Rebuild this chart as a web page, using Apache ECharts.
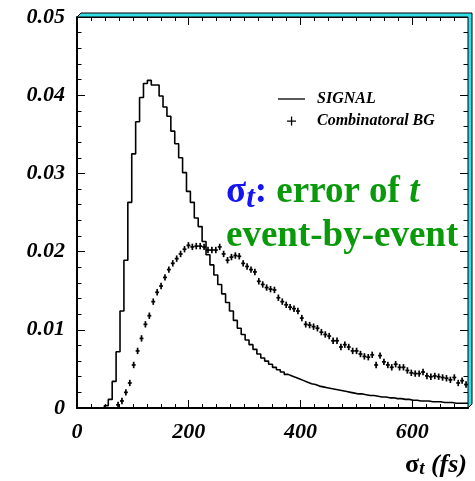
<!DOCTYPE html>
<html>
<head>
<meta charset="utf-8">
<title>sigma_t</title>
<script src="https://cdn.jsdelivr.net/npm/echarts@6/dist/echarts.min.js"></script>
<style>
  body { margin: 0; background: #fff; }
  #chart { width: 475px; height: 481px; }
</style>
</head>
<body>
<div id="chart"></div>
<script>
// histogram binning (fs)
var binWidth = 7;
var xMax = 700;
// SIGNAL, one value per 7 fs bin
var signal = [
  0, 0, 0, 0, 0, 0, 0, 0.0003, 0.0011, 0.0034,
  0.0072, 0.0124, 0.0189, 0.0263, 0.0325, 0.0366, 0.0397, 0.0415, 0.0419, 0.0413,
  0.0413, 0.0399, 0.0385, 0.0373, 0.0354, 0.0338, 0.0320, 0.0301, 0.0277, 0.0263,
  0.0243, 0.0232, 0.0213, 0.0196, 0.0183, 0.0170, 0.0158, 0.0146, 0.0135, 0.0124,
  0.0112, 0.0102, 0.0094, 0.0087, 0.0081, 0.0075, 0.0069, 0.0064, 0.0060, 0.0056,
  0.0052, 0.0049, 0.0046, 0.0043, 0.0041, 0.0039, 0.0037, 0.0035, 0.0033, 0.0031,
  0.0030, 0.0028, 0.0027, 0.0026, 0.0025, 0.0024, 0.0023, 0.0022, 0.0021, 0.0020,
  0.0019, 0.0018, 0.0018, 0.0017, 0.0016, 0.0016, 0.0015, 0.0014, 0.0014, 0.0013,
  0.0013, 0.0012, 0.0012, 0.0011, 0.0011, 0.0010, 0.0010, 0.0009, 0.0009, 0.0009,
  0.0008, 0.0008, 0.0008, 0.0007, 0.0007, 0.0007, 0.0006, 0.0006, 0.0006, 0.0006
];
// Combinatoral BG, same bins
var bg = [
  0, 0, 0, 0, 0, 0, 0, 0, 0, 0,
  0.0004, 0.0009, 0.0020, 0.0032, 0.0055, 0.0073, 0.0089, 0.0107, 0.0118, 0.0136,
  0.0148, 0.0156, 0.0167, 0.0177, 0.0185, 0.0191, 0.0197, 0.0203, 0.0208, 0.0206,
  0.0207, 0.0207, 0.0206, 0.0202, 0.0202, 0.0202, 0.0206, 0.0197, 0.0189, 0.0193,
  0.0195, 0.0194, 0.0185, 0.0181, 0.0177, 0.0174, 0.0162, 0.0158, 0.0154, 0.0152,
  0.0151, 0.0141, 0.0136, 0.0132, 0.0129, 0.0127, 0.0124, 0.0115, 0.0107, 0.0106,
  0.0104, 0.0102, 0.0097, 0.0094, 0.0092, 0.0086, 0.0086, 0.0078, 0.0081, 0.0078,
  0.0073, 0.0073, 0.0069, 0.0066, 0.0065, 0.0068, 0.0055, 0.0067, 0.0059, 0.0055,
  0.0052, 0.0056, 0.0052, 0.0052, 0.0048, 0.0045, 0.0044, 0.0044, 0.0046, 0.0041,
  0.0040, 0.0041, 0.0040, 0.0039, 0.0038, 0.0036, 0.0039, 0.0032, 0.0035, 0.0030
];
var seriesNames = ['SIGNAL', 'Combinatoral BG'];
var yTickLabels = ['0', '0.01', '0.02', '0.03', '0.04', '0.05'];

var serif = '"Liberation Serif", "Times New Roman", serif';

// step line points: low edge of every bin, plus the last edge
var signalData = [];
for (var i = 0; i < signal.length; i++) {
  signalData.push([i * binWidth, signal[i]]);
}
signalData.push([signal.length * binWidth, signal[signal.length - 1]]);

var bgData = [];
for (var j = 0; j < bg.length; j++) {
  bgData.push([(j + 0.5) * binWidth, bg[j]]);
}

var labelRich = {
  a: { fontFamily: serif, fontWeight: 'bold', fontStyle: 'italic', fontSize: 22, fill: '#000', color: '#000' }
};

function xAx(pos, interval, len, line, labels) {
  return {
    type: 'value', min: 0, max: xMax, interval: interval, position: pos,
    axisLine: { show: line > 0, onZero: false, lineStyle: { color: '#000', width: line } },
    axisTick: { show: true, inside: true, length: len, lineStyle: { color: '#000', width: 1 } },
    axisLabel: labels ? {
      margin: 13, showMaxLabel: false,
      formatter: function (v) { return '{a|' + Math.round(v) + '}'; },
      rich: labelRich
    } : { show: false },
    splitLine: { show: false }
  };
}
function yAx(pos, line, labels) {
  return {
    type: 'value', min: 0, max: 0.05, interval: 0.01, position: pos,
    axisLine: { show: true, onZero: false, lineStyle: { color: '#000', width: line } },
    axisTick: { show: true, inside: true, length: 8, lineStyle: { color: '#000', width: 1 } },
    minorTick: { show: true, splitNumber: 5, length: 4.5, lineStyle: { color: '#000', width: 1 } },
    axisLabel: labels ? {
      margin: 12,
      formatter: function (v) { return '{a|' + yTickLabels[Math.round(v * 100)] + '}'; },
      rich: labelRich
    } : { show: false },
    splitLine: { show: false },
    minorSplitLine: { show: false }
  };
}

var chart = echarts.init(document.getElementById('chart'));
chart.setOption({
  animation: false,
  backgroundColor: '#fff',
  grid: { left: 77, top: 17, right: 7, bottom: 73 },
  xAxis: [
    xAx('bottom', 200, 8, 2, true),
    xAx('bottom', 25, 4, 0, false),
    xAx('top', 200, 8, 1, false),
    xAx('top', 25, 4, 0, false)
  ],
  yAxis: [
    yAx('left', 2, true),
    yAx('right', 1, false)
  ],
  legend: {
    orient: 'vertical', left: 273, top: 86,
    itemWidth: 27, itemHeight: 9, itemGap: 6,
    selectedMode: false,
    textStyle: {
      fontFamily: serif, fontWeight: 'bold', fontStyle: 'italic',
      fontSize: 16, color: '#000', padding: [0, 0, 0, 7]
    },
    data: [
      { name: seriesNames[0], icon: 'path://M0,0H27V1.3H0Z' },
      { name: seriesNames[1], icon: 'path://M0,4H9V5.3H0Z M3.9,0H5.2V9H3.9Z' }
    ]
  },
  series: [
    {
      name: seriesNames[0],
      type: 'line',
      step: 'end',
      symbol: 'none',
      xAxisIndex: 0, yAxisIndex: 0,
      itemStyle: { color: '#000' },
      lineStyle: { color: '#000', width: 1.6 },
      data: signalData
    },
    {
      name: seriesNames[1],
      type: 'custom',
      xAxisIndex: 0, yAxisIndex: 0,
      itemStyle: { color: '#000' },
      renderItem: function (params, api) {
        var x = api.value(0), y = api.value(1);
        var c = api.coord([x, y]);
        var l = api.coord([x - binWidth / 2, y]);
        var r = api.coord([x + binWidth / 2, y]);
        var st = { stroke: '#000', lineWidth: 1.7 };
        var kids = [{ type: 'line', shape: { x1: l[0], y1: c[1], x2: r[0], y2: c[1] }, style: st }];
        if (y > 0) {
          kids.push({ type: 'line', shape: { x1: c[0], y1: c[1] - 3.2, x2: c[0], y2: c[1] + 3.2 }, style: st });
        }
        return { type: 'group', children: kids };
      },
      data: bgData
    }
  ],
  graphic: [
    {
      // 3D frame border (top + right)
      type: 'polygon', z: 1,
      shape: { points: [[77, 17], [81, 13], [472, 13], [472, 404], [468, 408], [468, 17]] },
      style: { fill: '#33dfe9', stroke: '#000', lineWidth: 1 }
    },
    {
      type: 'text', left: 226, top: 174, z: 10,
      style: {
        text: '{b|σ}{bs|t}{b|:}{g| error of }{gi|t}\n{g|event-by-event}',
        rich: {
          b: { fill: '#1515f0', fontFamily: serif, fontWeight: 'bold', fontSize: 37, lineHeight: 44 },
          bs: { fill: '#1515f0', fontFamily: serif, fontWeight: 'bold', fontStyle: 'italic', fontSize: 31, lineHeight: 16, verticalAlign: 'bottom' },
          g: { fill: '#0a990a', fontFamily: serif, fontWeight: 'bold', fontSize: 37, lineHeight: 44 },
          gi: { fill: '#0a990a', fontFamily: serif, fontWeight: 'bold', fontStyle: 'italic', fontSize: 37, lineHeight: 44 }
        }
      }
    },
    {
      type: 'text', right: 8, top: 452, z: 10,
      style: {
        text: '{s|σ}{sub|t}{s| }{i|(fs)}',
        rich: {
          s: { fill: '#000', fontFamily: serif, fontWeight: 'bold', fontSize: 26, lineHeight: 28 },
          sub: { fill: '#000', fontFamily: serif, fontWeight: 'bold', fontStyle: 'italic', fontSize: 19, lineHeight: 12, verticalAlign: 'bottom' },
          i: { fill: '#000', fontFamily: serif, fontWeight: 'bold', fontStyle: 'italic', fontSize: 26, lineHeight: 28 }
        }
      }
    }
  ]
});
</script>
</body>
</html>
